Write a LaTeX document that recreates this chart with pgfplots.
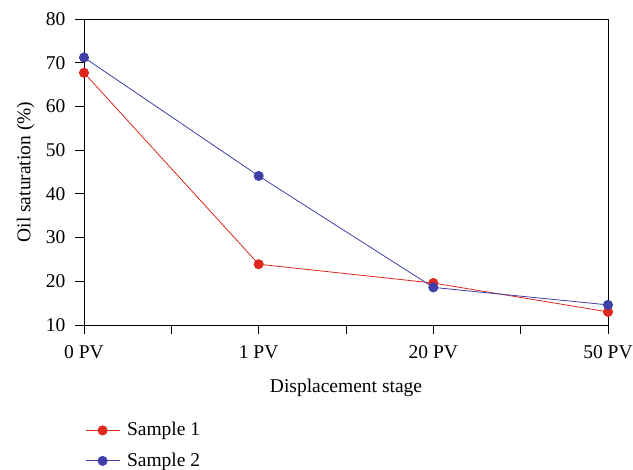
\documentclass[border=0pt]{standalone}
\usepackage{pgfplots}
\pgfplotsset{compat=1.18}
\usepackage{fontspec}
\setmainfont{Liberation Serif}
\definecolor{sred}{RGB}{222,40,30}
\definecolor{sblue}{RGB}{62,64,168}
\begin{document}
\fontsize{19.5}{23}\selectfont
\begin{tikzpicture}
\begin{axis}[
  scale only axis,
  width=524pt, height=306pt,
  xmin=0, xmax=3, ymin=10, ymax=80,
  xtick={0,1,2,3},
  xticklabels={0 PV,1 PV,20 PV,50 PV},
  minor xtick={0.5,1.5,2.5},
  ytick={10,20,...,80},
  axis x line*=bottom, axis y line*=left,
  tick align=outside,
  major tick length=9pt, minor tick length=9pt,
  every tick/.style={black, line width=0.8pt},
  axis line style={line width=0.8pt},
  /pgf/number format/assume math mode=true,
  tick label style={font=\fontsize{19.5}{23}\selectfont},
  yticklabel style={xshift=-3pt},
  xticklabel style={yshift=-5pt},
  label style={font=\fontsize{19.5}{23}\selectfont},
  xlabel={Displacement stage},
  ylabel={Oil saturation (\%)},
  xlabel style={yshift=-7pt},
  ylabel shift=-2pt,
  clip=false,
  legend style={at={(0,0)}, anchor=north west, xshift=-2pt, yshift=-93pt, draw=none, fill=none, font=\fontsize{19.5}{23}\selectfont, row sep=10pt, legend cell align=left, /tikz/every odd column/.append style={column sep=5pt}},
  legend image code/.code={\draw[mark repeat=2,mark phase=2] plot coordinates {(0pt,0pt) (17pt,0pt) (34pt,0pt)};},
]
\draw[line width=0.8pt] (rel axis cs:0,1) -- (rel axis cs:1,1) -- (rel axis cs:1,0);
\addplot[sred, line width=0.8pt, mark=*, mark size=4.6pt, mark options={fill=sred, draw=sred}] coordinates {(0,67.7) (1,23.9) (2,19.6) (3,13.0)};
\addlegendentry{Sample 1}
\addplot[sblue, line width=0.8pt, mark=*, mark size=4.6pt, mark options={fill=sblue, draw=sblue}] coordinates {(0,71.2) (1,44.1) (2,18.6) (3,14.6)};
\addlegendentry{Sample 2}
\end{axis}
\pgfresetboundingbox
\path ([shift={(-84pt,-145pt)}]current axis.south west) rectangle ([shift={(25pt,19pt)}]current axis.north east);
\end{tikzpicture}
\end{document}
